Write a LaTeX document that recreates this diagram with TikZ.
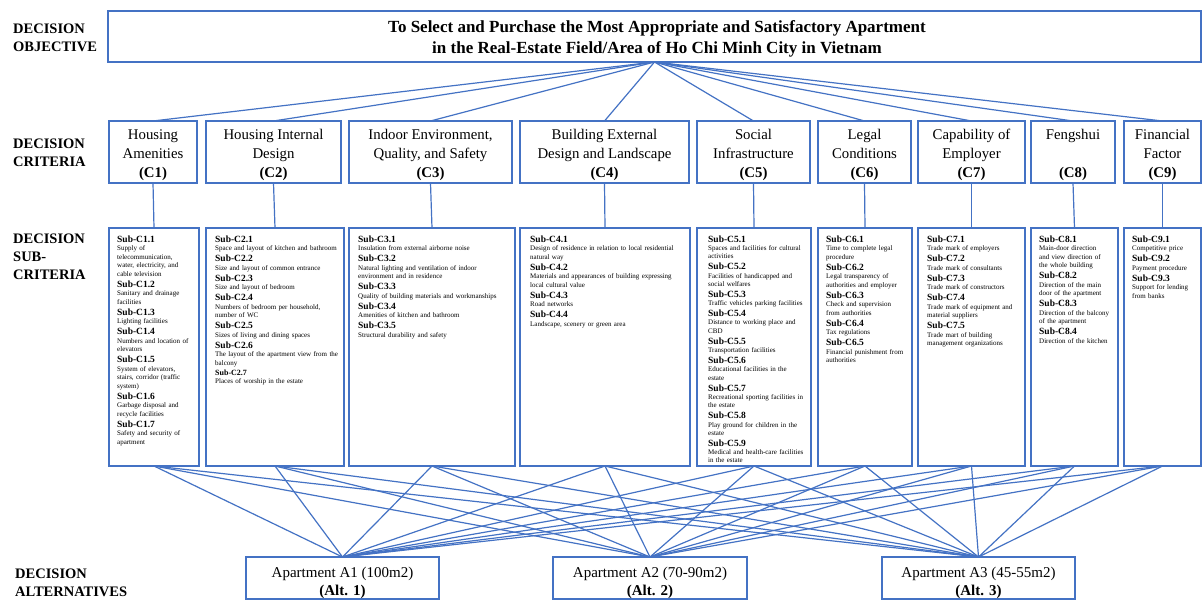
\documentclass[tikz,border=0pt]{standalone}
\usepackage{fontspec}
\setmainfont{Liberation Serif}
\definecolor{myblue}{HTML}{4472C4}
\newcommand\sh[1]{\par{\fontsize{9.5}{11}\selectfont\bfseries #1\par}}
\newcommand\shs[1]{\par{\fontsize{8}{10}\selectfont\bfseries #1\par}}
\begin{document}
\begin{tikzpicture}[x=1pt,y=-1pt,
  box/.style={draw=myblue, line width=1.7pt, inner sep=0pt, outer sep=0pt, anchor=north west},
  crit/.style={box, minimum height=62pt},
  crittext/.style={inner sep=0pt, align=center, font=\fontsize{14.8}{19}\selectfont},
  subbox/.style={box, minimum height=238pt},
  subtext/.style={anchor=north west, inner sep=0pt, align=left, font=\fontsize{7}{8.5}\selectfont},
  lab/.style={anchor=west, inner sep=0pt, align=left, font=\fontsize{14.5}{18}\selectfont\bfseries},
  alttext/.style={align=center, inner sep=0pt, font=\fontsize{15}{18}\selectfont},
  link/.style={draw=myblue, line width=1.2pt}]
\useasboundingbox (0,0) rectangle (1202,601);
\fill[white] (0,0) rectangle (1202,601);

% left labels
\node[lab] (l1) at (13,37.5) {DECISION\\OBJECTIVE};
\node[lab] (l2) at (13,153) {DECISION\\CRITERIA};
\node[lab] (l3) at (13,256.5) {DECISION\\SUB-\\CRITERIA};
\node[lab] (l4) at (15,582.5) {DECISION\\ALTERNATIVES};

% objective
\node[box, minimum width=1093pt, minimum height=51pt] (obj) at (108,11) {};
\node[inner sep=0pt, align=center, font=\fontsize{17}{21}\selectfont\bfseries] (objt) at (657,39)
  {To Select and Purchase the Most Appropriate and Satisfactory Apartment\\in the Real-Estate Field/Area of Ho Chi Minh City in Vietnam};

% criteria
\node[crit, minimum width=88pt] (c1) at (109,121) {};
\node[crit, minimum width=135pt] (c2) at (206,121) {};
\node[crit, minimum width=163pt] (c3) at (349,121) {};
\node[crit, minimum width=169pt] (c4) at (520,121) {};
\node[crit, minimum width=113pt] (c5) at (697,121) {};
\node[crit, minimum width=93pt] (c6) at (818,121) {};
\node[crit, minimum width=107pt] (c7) at (918,121) {};
\node[crit, minimum width=84pt] (c8) at (1031,121) {};
\node[crit, minimum width=77pt] (c9) at (1124,121) {};
\node[crittext] (c1t) at ([yshift=-3pt]c1.center) {Housing\\Amenities\\\textbf{(C1)}};
\node[crittext] (c2t) at ([yshift=-3pt]c2.center) {Housing Internal\\Design\\\textbf{(C2)}};
\node[crittext] (c3t) at ([yshift=-3pt]c3.center) {Indoor Environment,\\Quality, and Safety\\\textbf{(C3)}};
\node[crittext] (c4t) at ([yshift=-3pt]c4.center) {Building External\\Design and Landscape\\\textbf{(C4)}};
\node[crittext] (c5t) at ([yshift=-3pt]c5.center) {Social\\Infrastructure\\\textbf{(C5)}};
\node[crittext] (c6t) at ([yshift=-3pt]c6.center) {Legal\\Conditions\\\textbf{(C6)}};
\node[crittext] (c7t) at ([yshift=-3pt]c7.center) {Capability of\\Employer\\\textbf{(C7)}};
\node[crittext] (c8t) at ([yshift=-3pt]c8.center) {Fengshui\\\strut\\\textbf{(C8)}};
\node[crittext] (c9t) at ([yshift=-3pt]c9.center) {Financial\\Factor\\\textbf{(C9)}};

% sub-criteria boxes
\node[subbox, minimum width=90pt] (s1) at (109,228) {};
\node[subbox, minimum width=138pt] (s2) at (206,228) {};
\node[subbox, minimum width=166pt] (s3) at (349,228) {};
\node[subbox, minimum width=170pt] (s4) at (520,228) {};
\node[subbox, minimum width=114pt] (s5) at (697,228) {};
\node[subbox, minimum width=94pt] (s6) at (818,228) {};
\node[subbox, minimum width=107pt] (s7) at (918,228) {};
\node[subbox, minimum width=87pt] (s8) at (1031,228) {};
\node[subbox, minimum width=77pt] (s9) at (1124,228) {};

% sub-criteria texts
\node[subtext, text width=80pt] (t1) at (117,231) {\sh{Sub-C1.1}Supply of\\telecommunication,\\water, electricity, and\\cable television\sh{Sub-C1.2}Sanitary and drainage\\facilities\sh{Sub-C1.3}Lighting facilities\sh{Sub-C1.4}Numbers and location of\\elevators\sh{Sub-C1.5}System of elevators,\\stairs, corridor (traffic\\system)\sh{Sub-C1.6}Garbage disposal and\\recycle facilities\sh{Sub-C1.7}Safety and security of\\apartment};
\node[subtext, text width=127pt] (t2) at (215,231) {\sh{Sub-C2.1}Space and layout of kitchen and bathroom\sh{Sub-C2.2}Size and layout of common entrance\sh{Sub-C2.3}Size and layout of bedroom\sh{Sub-C2.4}Numbers of bedroom per household,\\number of WC\sh{Sub-C2.5}Sizes of living and dining spaces\sh{Sub-C2.6}The layout of the apartment view from the\\balcony\shs{Sub-C2.7}Places of worship in the estate};
\node[subtext, text width=155pt] (t3) at (358,231) {\sh{Sub-C3.1}Insulation from external airborne noise\sh{Sub-C3.2}Natural lighting and ventilation of indoor\\environment and in residence\sh{Sub-C3.3}Quality of building materials and workmanships\sh{Sub-C3.4}Amenities of kitchen and bathroom\sh{Sub-C3.5}Structural durability and safety};
\node[subtext, text width=158pt] (t4) at (530,231) {\sh{Sub-C4.1}Design of residence in relation to local residential\\natural way\sh{Sub-C4.2}Materials and appearances of building expressing\\local cultural value\sh{Sub-C4.3}Road networks\sh{Sub-C4.4}Landscape, scenery or green area};
\node[subtext, text width=104pt, font=\fontsize{7}{8.3}\selectfont] (t5) at (708,231) {\sh{Sub-C5.1}Spaces and facilities for cultural\\activities\sh{Sub-C5.2}Facilities of handicapped and\\social welfares\sh{Sub-C5.3}Traffic vehicles parking facilities\sh{Sub-C5.4}Distance to working place and\\CBD\sh{Sub-C5.5}Transportation facilities\sh{Sub-C5.6}Educational facilities in the\\estate\sh{Sub-C5.7}Recreational sporting facilities in\\the estate\sh{Sub-C5.8}Play ground for children in the\\estate\sh{Sub-C5.9}Medical and health-care facilities\\in the estate};
\node[subtext, text width=84pt] (t6) at (826,231) {\sh{Sub-C6.1}Time to complete legal\\procedure\sh{Sub-C6.2}Legal transparency of\\authorities and employer\sh{Sub-C6.3}Check and supervision\\from authorities\sh{Sub-C6.4}Tax regulations\sh{Sub-C6.5}Financial punishment from\\authorities};
\node[subtext, text width=96pt] (t7) at (927,231) {\sh{Sub-C7.1}Trade mark of employers\sh{Sub-C7.2}Trade mark of consultants\sh{Sub-C7.3}Trade mark of constructors\sh{Sub-C7.4}Trade mark of equipment and\\material suppliers\sh{Sub-C7.5}Trade mart of building\\management organizations};
\node[subtext, text width=78pt] (t8) at (1039,231) {\sh{Sub-C8.1}Main-door direction\\and view direction of\\the whole building\sh{Sub-C8.2}Direction of the main\\door of the apartment\sh{Sub-C8.3}Direction of the balcony\\of the apartment\sh{Sub-C8.4}Direction of the kitchen};
\node[subtext, text width=68pt] (t9) at (1132,231) {\sh{Sub-C9.1}Competitive price\sh{Sub-C9.2}Payment procedure\sh{Sub-C9.3}Support for lending\\from banks};

% alternatives
\node[box, minimum width=193pt, minimum height=42pt] (a1) at (246,557) {};
\node[box, minimum width=194pt, minimum height=42pt] (a2) at (553,557) {};
\node[box, minimum width=193pt, minimum height=42pt] (a3) at (882,557) {};
\node[alttext] (a1t) at (342.5,582.5) {Apartment A1 (100m2)\\\textbf{(Alt. 1)}};
\node[alttext] (a2t) at (650,582.5) {Apartment A2 (70-90m2)\\\textbf{(Alt. 2)}};
\node[alttext] (a3t) at (978.5,582.5) {Apartment A3 (45-55m2)\\\textbf{(Alt. 3)}};

% connectors
\foreach \i in {1,...,9} {
  \draw[link] (obj.south) -- (c\i.north);
  \draw[link] (c\i.south) -- (s\i.north);
  \foreach \j in {1,2,3} {
    \draw[link] (s\i.south) -- (a\j.north);
  }
}
\end{tikzpicture}
\end{document}
